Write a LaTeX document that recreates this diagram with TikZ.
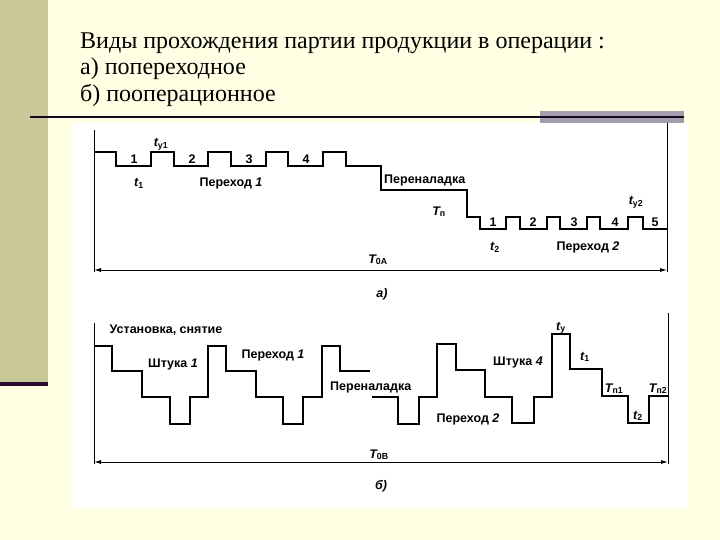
\documentclass[tikz,border=0pt]{standalone}
\usepackage{fontspec}
\setmainfont{Liberation Serif}
\setsansfont{Liberation Sans}
\newfontfamily\slidefont{Liberation Serif}
\usepackage{xcolor}
\usetikzlibrary{arrows.meta,positioning}

\definecolor{cream}{RGB}{255,255,228}
\definecolor{olive}{RGB}{200,200,152}
\definecolor{plum}{RGB}{42,12,50}
\definecolor{slate}{RGB}{164,158,172}

\tikzset{
  wave/.style={line width=2.2pt,line join=miter},
  axis/.style={line width=0.9pt},
  span/.style={line width=0.9pt,{Latex[length=7pt,width=4pt]}-{Latex[length=7pt,width=4pt]}},
  lbl/.style={font=\sffamily\bfseries\fontsize{12.5}{13}\selectfont,inner sep=0pt,anchor=base},
  ttl/.style={font=\slidefont\fontsize{24}{27}\selectfont,inner sep=0pt,anchor=base west}
}

\begin{document}
\begin{tikzpicture}[x=1pt,y=-1pt]
        % slide background
        \fill[cream] (0,0) rectangle (720,540);
        \useasboundingbox (0,0) rectangle (720,540);
        \fill[olive] (0,0) rectangle (48,382);
        \fill[plum] (0,382) rectangle (48,386);
        \fill[white] (72,123) rectangle (688,508);
        \fill[slate] (540,111) rectangle (684,123);
        \draw[line width=2pt,plum!60!black] (30,117.5) -- (684,117.5);

        % title
        \node[ttl] (title) at (80,49) {Виды прохождения партии продукции в операции :};
        \node[ttl] (linea) at (80,75) {а) попереходное};
        \node[ttl] (lineb) at (80,102) {б) пооперационное};

        % a) frame
        \coordinate (aL) at (94,270);
        \coordinate (aR) at (667,270);
        \draw[axis] (94,130) -- (94,272);
        \draw[axis] (667,123) -- (667,272);
        \draw[span] (aL) -- (aR);

        % a) waveform
        \draw[wave] (94,152) -- (116,152) -- (116,166)
          -- (151,166) -- (151,152) -- (174,152) -- (174,166)
          -- (208,166) -- (208,152) -- (231,152) -- (231,166)
          -- (266,166) -- (266,152) -- (288,152) -- (288,166)
          -- (323,166) -- (323,152) -- (346,152) -- (346,166)
          -- (381,166) -- (381,190) -- (467,190) -- (467,217) -- (480,217) -- (480,229)
          -- (506,229) -- (506,217) -- (520,217) -- (520,229)
          -- (547,229) -- (547,217) -- (560,217) -- (560,229)
          -- (587,229) -- (587,217) -- (600,217) -- (600,229)
          -- (628,229) -- (628,217) -- (643,217) -- (643,229) -- (667,229);

        % a) labels (base line positions)
        \foreach \x/\n in {134/1,192/2,249/3,306/4}
        \node[lbl] (pa\n) at (\x,164) {\n};
        \foreach \x/\n in {493/1,533/2,574/3,615/4,655/5}
        \node[lbl] (pb\n) at (\x,226) {\n};
        \node[lbl] (ty1) at (161,147) {\itshape t\upshape\textsubscript{у1}};
        \node[lbl] (ta1) at (139,187) {\itshape t\upshape\textsubscript{1}};
        \node[lbl] (pera) at (231,187) {Переход \textit{1}};
        \node[lbl,anchor=base west] (pna) at (384,184) {Переналадка};
        \node[lbl] (tpa) at (439,215) {\itshape T\upshape\textsubscript{п}};
        \node[lbl] (ty2) at (636,205) {\itshape t\upshape\textsubscript{у2}};
        \node[lbl] (ta2) at (495,251) {\itshape t\upshape\textsubscript{2}};
        \node[lbl] (perb) at (588,251) {Переход \textit{2}};
        \node[lbl] (t0a) at (378,263) {\itshape T\upshape\textsubscript{0А}};
        \node[lbl] (capa) at (382,297) {\itshape а)};

        % b) frame
        \coordinate (bL) at (94,462);
        \coordinate (bR) at (668,462);
        \draw[axis] (94,323) -- (94,464);
        \draw[axis] (668,313) -- (668,464);
        \draw[span] (bL) -- (bR);

        % b) waveform
        \draw[wave] (94,346) -- (112,346) -- (112,371) -- (142,371) -- (142,397)
          -- (170,397) -- (170,424) -- (190,424) -- (190,397) -- (208,397) -- (208,346)
          -- (226,346) -- (226,371) -- (256,371) -- (256,397) -- (283,397) -- (283,424)
          -- (303,424) -- (303,397) -- (322,397) -- (322,346) -- (340,346) -- (340,371)
          -- (370,371);
        \draw[wave] (372,397) -- (398,397) -- (398,424) -- (419,424) -- (419,397)
          -- (437,397) -- (437,344) -- (456,344) -- (456,370) -- (485,370) -- (485,397)
          -- (512,397) -- (512,423) -- (534,423) -- (534,397) -- (552,397) -- (552,334)
          -- (570,334) -- (570,369) -- (602,369) -- (602,396) -- (628,396) -- (628,423)
          -- (649,423) -- (649,396) -- (668,396);

        % b) labels
        \node[lbl] (ust) at (166,333) {Установка, снятие};
        \node[lbl] (sht1) at (173,367) {Штука \textit{1}};
        \node[lbl] (perc) at (273,358) {Переход \textit{1}};
        \node[lbl,anchor=base west] (pnb) at (330,390) {Переналадка};
        \node[lbl] (sht4) at (518,365) {Штука \textit{4}};
        \node[lbl] (perd) at (468,422) {Переход \textit{2}};
        \node[lbl] (ty) at (561,330) {\itshape t\upshape\textsubscript{у}};
        \node[lbl] (tb1) at (585,360) {\itshape t\upshape\textsubscript{1}};
        \node[lbl] (tp1) at (614,392) {\itshape T\upshape\textsubscript{п1}};
        \node[lbl] (tp2) at (658,392) {\itshape T\upshape\textsubscript{п2}};
        \node[lbl] (tb2) at (638,419) {\itshape t\upshape\textsubscript{2}};
        \node[lbl] (t0b) at (379,458) {\itshape T\upshape\textsubscript{0В}};
        \node[lbl] (capb) at (381,489) {\itshape б)};
\end{tikzpicture}
\end{document}
